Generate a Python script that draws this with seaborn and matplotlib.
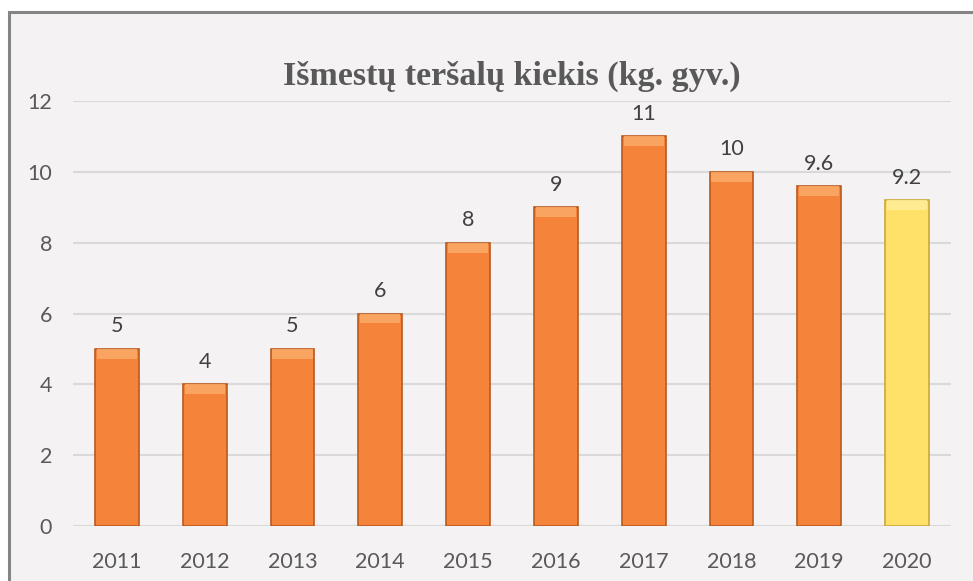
import matplotlib
matplotlib.use("Agg")
import matplotlib.pyplot as plt
import seaborn as sns
import pandas as pd
from matplotlib.patches import Rectangle

years = ["2011", "2012", "2013", "2014", "2015", "2016", "2017", "2018", "2019", "2020"]
values = [5, 4, 5, 6, 8, 9, 11, 10, 9.6, 9.2]
labels = ["5", "4", "5", "6", "8", "9", "11", "10", "9.6", "9.2"]
bar_colors = ["#F5843A"] * 9 + ["#FFE169"]
edge_colors = ["#B85A1E"] * 9 + ["#C8A83A"]
top_colors = ["#FBAA68"] * 9 + ["#FFEE9A"]
title = "Išmestų teršalų kiekis (kg. gyv.)"

df = pd.DataFrame({"year": years, "value": values})

sns.set_theme(style="white")
plt.rcParams["font.family"] = ["Lato", "DejaVu Sans"]

W, H = 973, 581
fig = plt.figure(figsize=(W / 100, H / 100), dpi=100)
fig.patch.set_facecolor("white")
bg = Rectangle((9 / W, -0.05), 1.1, 1 - 12 / H + 0.05, transform=fig.transFigure,
               facecolor="#F4F2F3", edgecolor="#858585", linewidth=2.2, zorder=-10)
fig.patches.append(bg)

ax = fig.add_axes([73 / W, (H - 526) / H, (951 - 73) / W, (526 - 101) / H])
ax.set_facecolor("none")

sns.barplot(data=df, x="year", y="value", hue="year", palette=bar_colors,
            legend=False, width=0.5, ax=ax, saturation=1, zorder=3)
for patch, ec in zip(ax.patches, edge_colors):
    patch.set_edgecolor(ec)
    patch.set_linewidth(1.2)

# light bevel band on top of each bar
band = 0.28
ax.bar(range(len(values)), [band] * len(values), bottom=[v - band for v in values],
       width=0.46, color=top_colors, alpha=0.85, zorder=4, linewidth=0)

for i, (v, lab) in enumerate(zip(values, labels)):
    ax.annotate(lab, (i, v), xytext=(0, 9), textcoords="offset points",
                ha="center", va="bottom", fontsize=15.5, color="#404040")

ax.set_ylim(0, 12)
ax.set_xlim(-0.5, len(years) - 0.5)
ax.set_yticks(range(0, 13, 2))
ax.yaxis.grid(True, color="#D9D9D9", linewidth=1.5, zorder=0)
ax.set_axisbelow(True)
for s in ax.spines.values():
    s.set_visible(False)
ax.tick_params(axis="both", length=0, labelsize=15.5, labelcolor="#595959")
ax.tick_params(axis="x", pad=18.5)
ax.tick_params(axis="y", pad=15)
ax.set_xlabel("")
ax.set_ylabel("")

fig.text(512 / W, 1 - 76 / H, title, ha="center", va="center",
         fontsize=24.5, fontweight="bold", color="#595959",
         family=["Liberation Serif", "DejaVu Serif"])

fig.savefig("out.png", dpi=100)
